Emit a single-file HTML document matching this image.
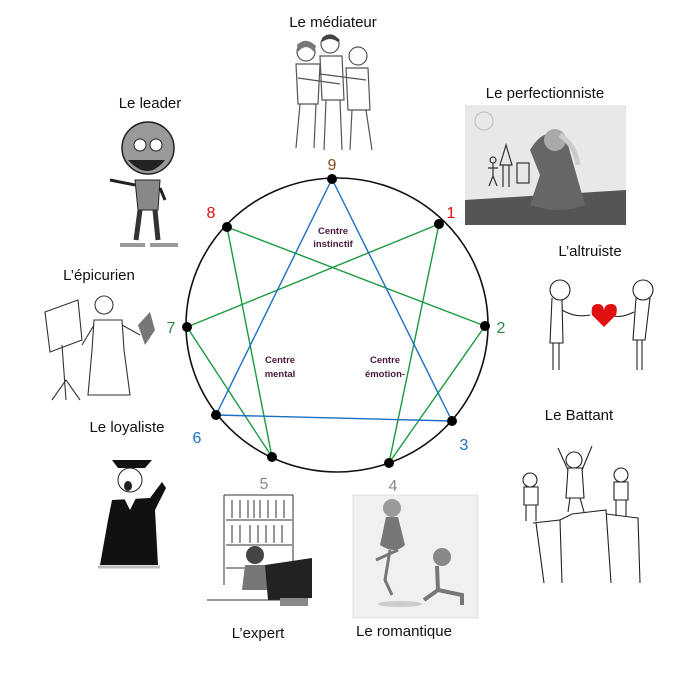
<!DOCTYPE html>
<html><head><meta charset="utf-8"><style>
html,body{margin:0;padding:0;background:#fff;}
svg{display:block;}
text{font-family:"Liberation Sans",sans-serif;}
</style></head><body>
<svg width="680" height="680" viewBox="0 0 680 680" xmlns="http://www.w3.org/2000/svg">
<!-- titles -->
<g font-size="15" fill="#111" text-anchor="middle">
<text x="333" y="27">Le médiateur</text>
<text x="545" y="98">Le perfectionniste</text>
<text x="150" y="108">Le leader</text>
<text x="590" y="256">L’altruiste</text>
<text x="99" y="280">L’épicurien</text>
<text x="579" y="420">Le Battant</text>
<text x="127" y="432">Le loyaliste</text>
<text x="258" y="638">L’expert</text>
<text x="404" y="636">Le romantique</text>
</g>

<!-- médiateur figures -->
<g stroke="#555" fill="none" stroke-width="1.2">
<circle cx="306" cy="52" r="9"/><circle cx="330" cy="44" r="9"/><circle cx="358" cy="56" r="9"/>
<path d="M296 64 L298 104 L318 104 L320 64 Z"/>
<path d="M320 56 L322 100 L344 100 L342 56 Z"/>
<path d="M346 68 L348 110 L370 110 L368 68 Z"/>
<path d="M300 104 L296 148 M316 104 L314 148 M326 100 L324 150 M340 100 L342 150 M352 110 L350 150 M366 110 L372 150"/>
<path d="M298 78 L340 84 M320 74 L366 80"/>
</g>
<path d="M297 45 Q306 36 316 46 L314 52 Q306 42 298 52 Z" fill="#777"/>
<path d="M322 38 Q330 30 340 40 L338 42 Q330 36 322 42 Z" fill="#444"/>

<!-- perfectionniste image -->
<rect x="465" y="105" width="161" height="120" fill="#d8d8d8"/>
<rect x="465" y="105" width="161" height="95" fill="#e8e8e8"/>
<polygon points="465,200 626,190 626,225 465,225" fill="#555"/>
<circle cx="484" cy="121" r="9" fill="none" stroke="#bbb"/>
<g stroke="#333" fill="none" stroke-width="1.2">
<circle cx="493" cy="160" r="3"/><path d="M493 163 V176 M488 168 H498 M493 176 L489 186 M493 176 L497 186"/>
<polygon points="506,145 500,165 512,165"/><path d="M503 165 V187 M509 165 V187"/>
<rect x="517" y="163" width="12" height="20"/>
</g>
<path d="M530 150 Q548 120 568 145 L585 205 Q560 215 530 205 L540 175 Z" fill="#666"/>
<circle cx="555" cy="140" r="11" fill="#aaa"/>
<path d="M560 135 Q575 145 578 165" stroke="#ccc" stroke-width="5" fill="none"/>

<!-- altruiste -->
<g stroke="#222" fill="none" stroke-width="1.1">
<circle cx="560" cy="290" r="10"/><path d="M552 298 L550 343 H563 L562 300 M553 343 V370 M559 343 V370 M562 310 Q575 318 590 315"/>
<circle cx="643" cy="290" r="10"/><path d="M636 298 L633 340 H645 L650 298 M637 340 V370 M642 340 V370 M634 312 Q622 318 614 316"/>
</g>
<path d="M604 327 L592 315 Q590 304 598 304 Q603 304 604 310 Q605 304 611 304 Q619 304 616 315 Z" fill="#e01010"/>

<!-- battant -->
<g stroke="#222" fill="none" stroke-width="1.1">
<path d="M533 523 L560 520 L562 583 M560 520 L572 514 L606 510 L611 583 M606 514 L638 518 L640 583 M536 523 L544 583"/>
<circle cx="574" cy="460" r="8"/><path d="M568 468 L566 498 H584 L582 468 Z M568 470 L558 448 M582 470 L592 446 M570 498 L568 512 M580 498 L584 512"/>
<circle cx="530" cy="480" r="7"/><path d="M524 487 L524 505 H538 L538 487 Z M526 505 V521 M536 505 V521"/>
<circle cx="621" cy="475" r="7"/><path d="M614 482 L614 500 H628 L628 482 Z M616 500 V516 M626 500 V516"/>
</g>

<!-- romantique -->
<rect x="353" y="495" width="125" height="123" fill="#f0f0f0" stroke="#e0e0e0"/>
<circle cx="392" cy="508" r="9" fill="#999"/>
<path d="M386 517 L380 545 Q395 555 405 545 L398 517 Z" fill="#777"/>
<path d="M390 550 L385 580 L392 595 M398 550 L376 560" stroke="#777" stroke-width="3" fill="none"/>
<circle cx="442" cy="557" r="9" fill="#888"/>
<path d="M437 566 L438 590 L424 600 M438 590 L462 595 L462 605" stroke="#777" stroke-width="4" fill="none"/>
<ellipse cx="400" cy="604" rx="22" ry="3" fill="#ccc"/>

<!-- leader -->
<circle cx="148" cy="148" r="26" fill="#999" stroke="#222" stroke-width="1.5"/>
<path d="M128 160 Q148 182 165 160 Z" fill="#222"/>
<circle cx="140" cy="145" r="6" fill="#fff" stroke="#222"/><circle cx="156" cy="145" r="6" fill="#fff" stroke="#222"/>
<path d="M135 180 L160 180 L158 210 L138 210 Z" fill="#888" stroke="#222"/>
<path d="M140 210 L136 240 M155 210 L158 240" stroke="#333" stroke-width="5"/>
<path d="M120 245 H145 M150 245 H178" stroke="#999" stroke-width="4"/>
<path d="M135 185 L110 180 M160 188 L165 200" stroke="#222" stroke-width="3"/>

<!-- épicurien -->
<g stroke="#333" fill="none" stroke-width="1.1">
<polygon points="45,312 78,300 82,340 50,352"/>
<path d="M62 345 L66 400 M66 380 L52 400 M66 380 L80 400"/>
<circle cx="104" cy="305" r="9"/>
<path d="M94 320 L92 350 L88 395 L130 395 L124 350 L122 320 Z M94 325 L82 345 M122 325 L140 335"/>
</g>
<path d="M138 325 L150 312 L155 330 L145 345 Z" fill="#777"/>

<!-- loyaliste -->
<path d="M112 460 L152 460 L145 468 L118 468 Z" fill="#111"/>
<circle cx="130" cy="480" r="12" fill="#fff" stroke="#222"/>
<ellipse cx="128" cy="486" rx="4" ry="5" fill="#222"/>
<path d="M112 500 L150 498 L162 482 L166 488 L155 510 L158 565 L100 565 L108 520 Z" fill="#111"/>
<path d="M124 498 L130 510 L136 498 Z" fill="#fff"/>
<path d="M98 567 H160" stroke="#bbb" stroke-width="3"/>

<!-- expert -->
<g stroke="#333" fill="none" stroke-width="1">
<path d="M224 495 H293 V580 M224 495 V585"/>
<path d="M226 520 H292 M226 545 H292 M226 568 H292"/>
<path d="M232 500 V518 M240 500 V518 M248 500 V518 M254 500 V518 M260 500 V518 M268 500 V518 M276 500 V518 M284 500 V518"/>
<path d="M232 525 V543 M240 525 V543 M250 525 V543 M258 525 V543 M266 525 V543 M274 525 V543 M282 525 V543"/>
<path d="M207 600 H300"/>
</g>
<circle cx="255" cy="555" r="9" fill="#444"/>
<path d="M245 565 L242 590 H268 L265 565 Z" fill="#777"/>
<polygon points="265,565 312,558 312,598 268,600" fill="#222"/>
<rect x="280" y="598" width="28" height="8" fill="#888"/>

<!-- enneagram -->
<ellipse cx="337" cy="325" rx="151" ry="147" fill="none" stroke="#111" stroke-width="1.6"/>
<g stroke="#1a9a3e" stroke-width="1.4" fill="none">
<line x1="227" y1="227" x2="485" y2="326"/>
<line x1="227" y1="227" x2="272" y2="457"/>
<line x1="187" y1="327" x2="439" y2="224"/>
<line x1="187" y1="327" x2="272" y2="457"/>
<line x1="439" y1="224" x2="389" y2="463"/>
<line x1="485" y1="326" x2="389" y2="463"/>
</g>
<g stroke="#1a6fc4" stroke-width="1.4" fill="none">
<line x1="332" y1="179" x2="216" y2="415"/>
<line x1="332" y1="179" x2="452" y2="421"/>
<line x1="216" y1="415" x2="452" y2="421"/>
</g>
<g fill="#000">
<circle cx="332" cy="179" r="5"/><circle cx="227" cy="227" r="5"/><circle cx="439" cy="224" r="5"/>
<circle cx="187" cy="327" r="5"/><circle cx="485" cy="326" r="5"/><circle cx="216" cy="415" r="5"/>
<circle cx="452" cy="421" r="5"/><circle cx="272" cy="457" r="5"/><circle cx="389" cy="463" r="5"/>
</g>
<g font-size="16" text-anchor="middle">
<text x="332" y="170" fill="#8a4a12">9</text>
<text x="211" y="218" fill="#e01010">8</text>
<text x="451" y="218" fill="#e01010">1</text>
<text x="171" y="333" fill="#2a8a4a">7</text>
<text x="501" y="333" fill="#2a8a4a">2</text>
<text x="197" y="443" fill="#1a6fc4">6</text>
<text x="464" y="450" fill="#1a6fc4">3</text>
<text x="264" y="489" fill="#888">5</text>
<text x="393" y="491" fill="#888">4</text>
</g>
<g font-size="9.5" font-weight="bold" fill="#4a1a3a" text-anchor="middle">
<text x="333" y="234">Centre</text><text x="333" y="247">instinctif</text>
<text x="280" y="363">Centre</text><text x="280" y="377">mental</text>
<text x="385" y="363">Centre</text><text x="385" y="377">émotion-</text>
</g>
</svg>
</body></html>
